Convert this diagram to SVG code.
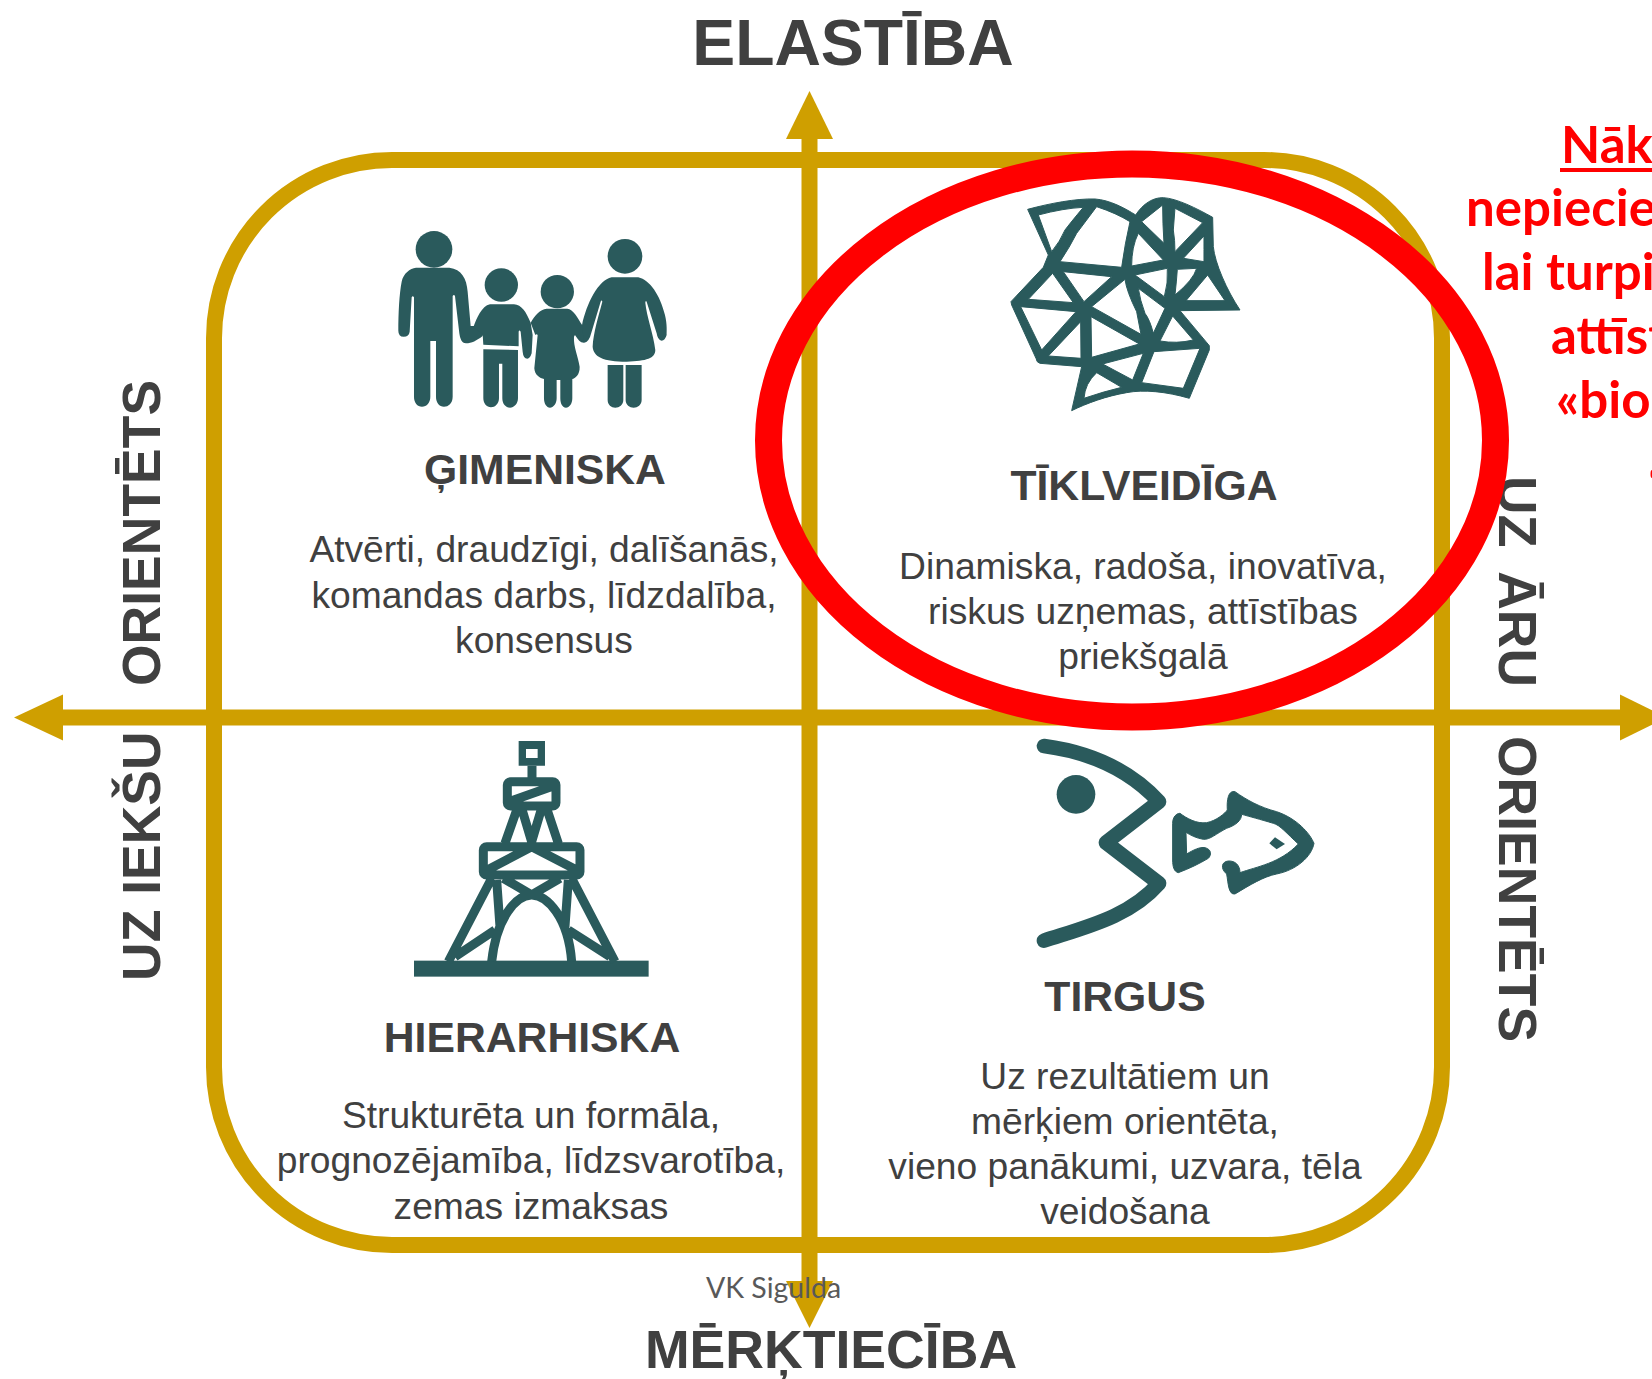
<svg xmlns="http://www.w3.org/2000/svg" width="1652" height="1379" viewBox="0 0 1652 1379">
<style>
text{font-family:"Liberation Sans",Arial,sans-serif;fill:#404040;text-anchor:middle}
.h{font-weight:700;font-size:42.700px}
.b{font-size:37.200px}
.a{font-weight:700;font-size:64.300px}
.v{font-weight:700;font-size:53.500px;text-anchor:start}
.r{font-family:Lato,"Open Sans",sans-serif;font-weight:700;font-size:51px;fill:#f00;text-anchor:start}
.t{fill:#2a5a5c}
.s{fill:none;stroke:#2a5a5c;stroke-linejoin:round}
.g{fill:#cf9f00}
</style>
<rect width="1652" height="1379" fill="#fff"/>
<g id="connectors">
<rect x="214" y="160" width="1228" height="1085" rx="178" fill="none" stroke="#cf9f00" stroke-width="16"/>
<rect class="g" x="801.500" y="135" width="16" height="1150"/>
<rect class="g" x="60" y="709.500" width="1565" height="16"/>
<polygon class="g" points="809.500,91 786,139 833,139"/>
<polygon class="g" points="809.500,1328 786,1281 833,1281"/>
<polygon class="g" points="14,717.500 63,694.500 63,740.500"/>
<polygon class="g" points="1667,717.500 1620,694.500 1620,740.500"/>
</g>
<g id="family" transform="translate(360 200) scale(.3333)">
<circle class="t" cx="222" cy="148" r="55"/>
<path class="t" d="M168,203H268C305,208 320,235 323,275L332,378L345,378L370,400L368,408C350,422 335,430 318,430C305,430 300,415 298,400L285,288Q282,282 278,288L278,590C278,610 265,620 252,620C238,620 228,608 228,590V423H211V590C211,608 200,620 186,620C172,620 162,608 162,590V292Q158,285 155,292L149,395Q147,410 131,410Q115,410 115,392C115,340 118,280 125,245C130,220 150,205 168,203Z"/>
<circle class="t" cx="424" cy="255" r="50"/>
<path class="t" d="M390,313H462C485,315 498,335 512,368L518,405L515,460Q510,476 502,476Q490,476 488,455L482,395Q478,388 476,395V439L370,434L368,402L340,382C350,355 365,318 390,313Z"/>
<path class="t" d="M370,448L474,450V595C474,612 462,623 450,623C437,623 427,612 427,595V491H417V595C417,612 405,622 393,622C380,622 370,610 370,595Z"/>
<circle class="t" cx="592" cy="275" r="50"/>
<path class="t" d="M560,326H622C640,328 652,352 667,376L690,392L672,428C660,428 655,420 645,405L642,410C640,440 655,470 659,500C660,525 645,535 637,537V595C637,612 628,623 618,623C608,623 601,612 601,595V540H590V595C590,612 580,623 570,623C560,623 552,612 552,595V537C540,535 524,525 523,505L533,405Q530,400 526,405L512,368C525,345 540,328 560,326Z"/>
<circle class="t" cx="795" cy="169" r="52"/>
<path class="t" d="M755,232H835C870,240 900,285 915,345C922,375 920,395 920,405Q915,422 905,422Q893,420 890,400L860,305Q857,300 856,308C860,350 880,400 886,450C886,475 860,483 800,485C730,485 700,470 698,440C700,400 715,350 727,305Q725,298 722,305L695,395Q687,428 672,428L666,376C680,310 715,240 755,232Z"/>
<path class="t" d="M743,495H790V600C790,615 778,623 766,623C754,623 743,615 743,600ZM797,495H845V600C845,615 833,623 821,623C809,623 797,615 797,600Z"/>
</g>
<g id="network" transform="translate(980 180) scale(.3333)">
<path class="t" stroke="#2a5a5c" stroke-width="3" stroke-linejoin="round" fill-rule="evenodd" d="M143,88C210,70 290,55 345,57C390,60 435,85 467,105C490,70 520,52 550,53C590,55 650,85 698,112L700,200C705,250 740,330 780,390L600,392L688,497V510L628,655C560,635 490,628 440,638C380,648 320,670 275,692L305,560L180,550Q170,548 168,535L95,375L93,365L190,262L205,225Z
M175,105Q250,85 310,82Q270,130 255,150Q240,185 215,215Z
M350,80Q410,100 450,125Q435,190 425,262L240,245Q270,200 290,160Z
M485,125L548,75Q548,130 552,190Z
M585,85L668,128L585,215Q585,180 580,150Z
M475,160L550,240L455,258Q455,200 475,160Z
M672,168Q672,210 672,245L610,235Z
M250,275L395,290L312,365Z
M218,280L280,368L145,358Z
M465,285L562,265Q565,310 553,350Z
M592,268L650,265Q640,300 585,345Q590,300 592,268Z
M683,285L735,362H618Z
M435,298Q440,335 470,395L483,463L335,380Z
M475,325L555,385L520,460Q510,420 495,400Q480,360 475,325Z
M122,380L288,395L185,510Z
M302,425L205,528L303,535Z
M333,410L478,492L335,532Z
M578,408L640,480Q590,492 540,483Z
M490,520L458,600L368,552Z
M522,515L660,505L610,625L485,608Z
M350,578L425,622Q370,635 312,655Q315,610 350,578Z"/>
</g>
<g id="tower" transform="translate(400 730) scale(.3333)">
<path class="t" fill-rule="evenodd" d="M356,33H435V107H356ZM378,57V84H413V57Z"/>
<rect class="t" x="42" y="692" width="704" height="48"/>
<path class="s" stroke-width="27" d="M396,107V145M322,165a10,10 0 0 1 10,-10H458a10,10 0 0 1 10,10V218a10,10 0 0 1 -10,10H332a10,10 0 0 1 -10,-10ZM335,212L460,168M352,235L315,340M440,235L475,340M365,235L395,335L425,235M250,360a10,10 0 0 1 10,-10H530a10,10 0 0 1 10,10V425a10,10 0 0 1 -10,10H260a10,10 0 0 1 -10,-10ZM262,420L395,350L530,420M275,445L145,695M515,445L645,695M275,695C290,560 350,495 395,495C440,495 505,560 515,695M310,445L395,495L480,445M290,450L300,590M505,450L495,590M285,600L165,680M505,600L630,680"/>
</g>
<g id="fish" transform="translate(1020 730) scale(.3333)">
<path class="s" stroke-width="44" stroke-linecap="round" d="M72,48C200,65 320,110 417,215L258,338L417,460C330,560 200,590 72,632"/>
<circle class="t" cx="168" cy="193" r="58"/>
<path class="t" stroke="#2a5a5c" stroke-width="3" d="M480,250C500,265 530,282 560,278C590,272 615,250 622,240C620,210 625,180 645,185C680,210 720,232 770,245C830,265 870,310 882,340C875,380 830,420 770,432C730,440 690,465 645,492C625,495 625,460 620,432C600,415 605,395 625,393C645,392 660,405 660,428C710,410 780,400 835,342C800,310 780,285 760,280C720,268 690,260 665,253C665,270 650,285 620,295C590,310 570,330 550,328C530,325 510,315 498,307L500,372C520,360 540,350 555,353C575,358 575,375 565,385C540,400 510,415 475,428C462,425 458,410 458,390V280C458,260 470,250 480,250Z"/>
<path class="t" d="M748,340L765,322L795,342L770,358Z"/>
</g>
<g id="labels">
<text class="a" x="853" y="64.500">ELASTĪBA</text>
<text class="a" x="831" y="1368" style="font-size:53.600px">MĒRĶTIECĪBA</text>
<text class="v" transform="translate(160 686) rotate(-90)">ORIENTĒTS</text>
<text class="v" transform="translate(160 981) rotate(-90)">UZ IEKŠU</text>
<text class="v" transform="translate(1499 476) rotate(90)" style="word-spacing:9px">UZ ĀRU</text>
<text class="v" transform="translate(1499 736) rotate(90)">ORIENTĒTS</text>
</g>
<g id="gimeniska">
<text class="h" x="545" y="484">ĢIMENISKA</text>
<text class="b" x="544" y="562">Atvērti, draudzīgi, dalīšanās,</text>
<text class="b" x="544" y="608">komandas darbs, līdzdalība,</text>
<text class="b" x="544" y="653">konsensus</text>
</g>
<g id="tiklveidiga">
<text class="h" x="1144" y="500">TĪKLVEIDĪGA</text>
<text class="b" x="1143" y="579">Dinamiska, radoša, inovatīva,</text>
<text class="b" x="1143" y="624">riskus uzņemas, attīstības</text>
<text class="b" x="1143" y="669">priekšgalā</text>
</g>
<g id="hierarhiska">
<text class="h" x="532" y="1052">HIERARHISKA</text>
<text class="b" x="531" y="1128">Strukturēta un formāla,</text>
<text class="b" x="531" y="1173">prognozējamība, līdzsvarotība,</text>
<text class="b" x="531" y="1219">zemas izmaksas</text>
</g>
<g id="tirgus">
<text class="h" x="1125" y="1011">TIRGUS</text>
<text class="b" x="1125" y="1089">Uz rezultātiem un</text>
<text class="b" x="1125" y="1134">mērķiem orientēta,</text>
<text class="b" x="1125" y="1179">vieno panākumi, uzvara, tēla</text>
<text class="b" x="1125" y="1224">veidošana</text>
</g>
<text x="773.500" y="1298" style="font-family:Lato,'Open Sans',sans-serif;font-size:28.500px;fill:#595959">VK Sigulda</text>
<ellipse id="highlight" cx="1132" cy="440.500" rx="363.500" ry="276.500" fill="none" stroke="#f00" stroke-width="27"/>
<g id="note">
<text class="r" x="1561" y="163">Nāka</text>
<rect x="1560" y="168" width="92" height="4" fill="#f00"/>
<text class="r" x="1466" y="226">nepiecie</text>
<text class="r" x="1482" y="290">lai turpi</text>
<text class="r" x="1551" y="354">attīst</text>
<text class="r" x="1556" y="418">«bio</text>
<ellipse cx="1652" cy="474" rx="1.500" ry="4" fill="#f00"/>
</g>
</svg>
